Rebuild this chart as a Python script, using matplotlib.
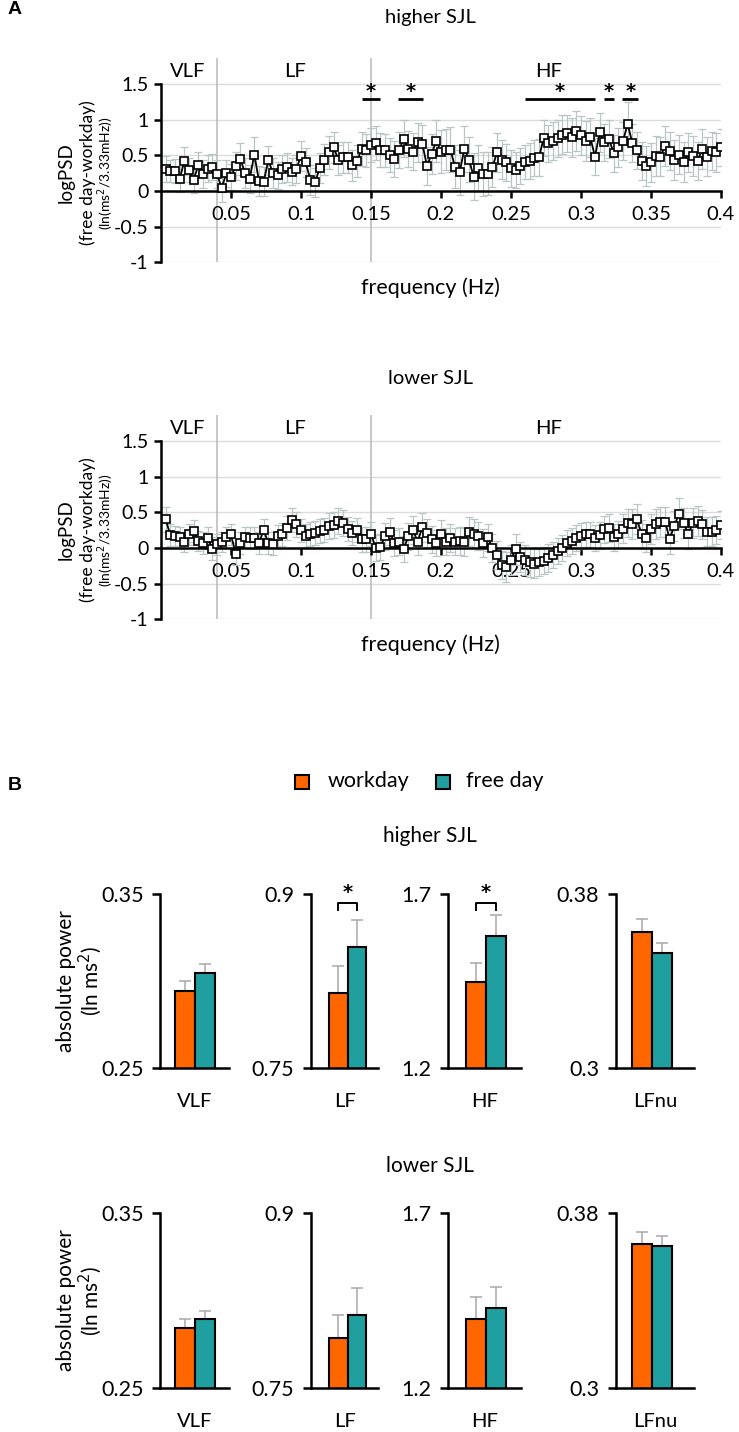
import numpy as np
import matplotlib
matplotlib.use("Agg")
import matplotlib.pyplot as plt
from matplotlib.patches import Rectangle

plt.rcParams['font.family'] = ['Lato', 'DejaVu Sans']

# ---------------- data ----------------
freq_hz = np.round(np.arange(1, 121) * 0.4 / 120, 5)   # 3.33 mHz bins

higher_mean = [
    0.31, 0.28, 0.28, 0.17, 0.42, 0.29, 0.16, 0.36, 0.24, 0.31,
    0.34, 0.24, 0.04, 0.25, 0.20, 0.35, 0.45, 0.25, 0.17, 0.51,
    0.14, 0.13, 0.43, 0.25, 0.22, 0.31, 0.33, 0.27, 0.31, 0.49,
    0.40, 0.16, 0.12, 0.32, 0.44, 0.54, 0.61, 0.44, 0.47, 0.47,
    0.36, 0.42, 0.59, 0.57, 0.64, 0.67, 0.57, 0.57, 0.50, 0.45,
    0.57, 0.73, 0.59, 0.55, 0.68, 0.66, 0.35, 0.52, 0.70, 0.55,
    0.58, 0.58, 0.34, 0.26, 0.59, 0.44, 0.20, 0.32, 0.24, 0.24,
    0.33, 0.54, 0.44, 0.40, 0.32, 0.29, 0.35, 0.41, 0.42, 0.46,
    0.47, 0.74, 0.67, 0.70, 0.74, 0.79, 0.81, 0.75, 0.84, 0.78,
    0.70, 0.75, 0.48, 0.82, 0.68, 0.73, 0.53, 0.61, 0.70, 0.94,
    0.67, 0.57, 0.42, 0.35, 0.40, 0.49, 0.48, 0.63, 0.56, 0.43,
    0.51, 0.40, 0.54, 0.49, 0.42, 0.59, 0.48, 0.56, 0.54, 0.61,
]
higher_err = [
    0.18, 0.16, 0.17, 0.18, 0.20, 0.17, 0.19, 0.18, 0.20, 0.19,
    0.18, 0.20, 0.20, 0.19, 0.18, 0.20, 0.22, 0.21, 0.20, 0.24,
    0.21, 0.20, 0.20, 0.21, 0.19, 0.20, 0.20, 0.19, 0.20, 0.21,
    0.20, 0.21, 0.20, 0.21, 0.22, 0.23, 0.22, 0.21, 0.22, 0.22,
    0.22, 0.23, 0.24, 0.23, 0.24, 0.24, 0.24, 0.23, 0.24, 0.25,
    0.25, 0.26, 0.25, 0.26, 0.27, 0.26, 0.27, 0.28, 0.30, 0.30,
    0.29, 0.31, 0.30, 0.31, 0.32, 0.31, 0.33, 0.32, 0.31, 0.30,
    0.28, 0.27, 0.27, 0.26, 0.26, 0.25, 0.25, 0.24, 0.25, 0.25,
    0.26, 0.25, 0.26, 0.27, 0.26, 0.27, 0.26, 0.27, 0.28, 0.27,
    0.28, 0.27, 0.26, 0.27, 0.26, 0.27, 0.26, 0.27, 0.26, 0.30,
    0.27, 0.26, 0.27, 0.28, 0.27, 0.28, 0.27, 0.28, 0.27, 0.28,
    0.27, 0.28, 0.27, 0.28, 0.27, 0.28, 0.27, 0.26, 0.27, 0.26,
]
lower_mean = [
    0.40, 0.18, 0.17, 0.15, 0.085, 0.19, 0.24, 0.10, 0.07, 0.14,
    -0.01, 0.05, 0.09, 0.15, 0.19, -0.085, 0.07, 0.15, 0.14, 0.14,
    0.07, 0.25, 0.07, 0.06, 0.165, 0.19, 0.28, 0.39, 0.33, 0.25,
    0.17, 0.20, 0.21, 0.24, 0.25, 0.31, 0.32, 0.38, 0.35, 0.27,
    0.21, 0.25, 0.12, 0.12, 0.20, 0.0, 0.015, 0.165, 0.23, 0.07,
    0.09, -0.015, 0.165, 0.25, 0.09, 0.29, 0.21, 0.12, 0.07, 0.20,
    0.085, 0.14, 0.085, 0.10, 0.085, 0.23, 0.20, 0.165, 0.07, 0.15,
    0.0, -0.10, -0.24, -0.27, -0.17, -0.02, -0.12, -0.17, -0.20, -0.22,
    -0.20, -0.18, -0.14, -0.10, -0.04, 0.0, 0.07, 0.10, 0.14, 0.165,
    0.19, 0.19, 0.14, 0.18, 0.26, 0.28, 0.15, 0.19, 0.27, 0.35,
    0.33, 0.40, 0.19, 0.14, 0.26, 0.33, 0.36, 0.37, 0.13, 0.31,
    0.48, 0.35, 0.20, 0.35, 0.38, 0.33, 0.23, 0.23, 0.25, 0.32,
]
lower_err = [
    0.18, 0.15, 0.14, 0.15, 0.14, 0.15, 0.15, 0.14, 0.15, 0.15,
    0.16, 0.15, 0.14, 0.15, 0.15, 0.16, 0.15, 0.15, 0.15, 0.16,
    0.15, 0.16, 0.15, 0.16, 0.16, 0.16, 0.17, 0.17, 0.17, 0.16,
    0.16, 0.17, 0.17, 0.17, 0.17, 0.18, 0.18, 0.18, 0.18, 0.17,
    0.17, 0.17, 0.17, 0.17, 0.17, 0.18, 0.18, 0.19, 0.19, 0.18,
    0.19, 0.18, 0.19, 0.20, 0.19, 0.20, 0.19, 0.19, 0.18, 0.19,
    0.19, 0.19, 0.19, 0.20, 0.20, 0.20, 0.20, 0.20, 0.19, 0.19,
    0.19, 0.20, 0.20, 0.21, 0.21, 0.22, 0.21, 0.21, 0.20, 0.20,
    0.19, 0.19, 0.19, 0.18, 0.18, 0.18, 0.18, 0.18, 0.18, 0.18,
    0.18, 0.18, 0.18, 0.19, 0.19, 0.19, 0.19, 0.19, 0.20, 0.20,
    0.21, 0.21, 0.20, 0.20, 0.21, 0.21, 0.21, 0.21, 0.21, 0.21,
    0.22, 0.21, 0.21, 0.21, 0.21, 0.20, 0.20, 0.20, 0.20, 0.20,
]

band_edges = [0.04, 0.15]
band_names = ["VLF", "LF", "HF"]
band_label_x = [0.019, 0.096, 0.277]
sig_ranges_higher = [(0.1433, 0.1564), (0.1695, 0.1874), (0.26, 0.31),
                     (0.3164, 0.3236), (0.3295, 0.341)]

line_yticks = [-1, -0.5, 0, 0.5, 1, 1.5]
line_yticklabels = ["-1", "-0.5", "0", "0.5", "1", "1.5"]
line_xticks = [0.05, 0.1, 0.15, 0.2, 0.25, 0.3, 0.35, 0.4]
line_xticklabels = ["0.05", "0.1", "0.15", "0.2", "0.25", "0.3", "0.35", "0.4"]

bar_categories = ["VLF", "LF", "HF", "LFnu"]
bar_ylims = [(0.25, 0.35), (0.75, 0.9), (1.2, 1.7), (0.3, 0.38)]
bar_yticklabels = [("0.25", "0.35"), ("0.75", "0.9"), ("1.2", "1.7"), ("0.3", "0.38")]
higher_workday = [0.2944, 0.815, 1.446, 0.3625]
higher_workday_err = [0.0058, 0.023, 0.055, 0.0059]
higher_freeday = [0.3044, 0.8546, 1.580, 0.3527]
higher_freeday_err = [0.0054, 0.0234, 0.060, 0.0047]
lower_workday = [0.2842, 0.7927, 1.397, 0.3657]
lower_workday_err = [0.0053, 0.0199, 0.064, 0.0053]
lower_freeday = [0.2894, 0.8126, 1.428, 0.3650]
lower_freeday_err = [0.0049, 0.0233, 0.060, 0.0046]
higher_sig = [False, True, True, False]

ORANGE = "#ff6600"
TEAL = "#1f9f9f"
ERRC = "#b8c6c6"

W, H = 739, 1432
fig = plt.figure(figsize=(W / 100, H / 100), dpi=100)


def rect(left, top, right, bottom):
    return [left / W, 1 - bottom / H, (right - left) / W, (bottom - top) / H]


def star(ax, x, y, size=14, **kw):
    ax.text(x, y, "*", ha="center", va="center", fontsize=size,
            fontweight="bold", family="DejaVu Sans", **kw)


def line_panel(zero_px, mean, err, title, title_y, sig=None):
    scale = 71.4
    ytop = 1.86
    ax = fig.add_axes(rect(161, zero_px - ytop * scale, 721, zero_px + 1 * scale))
    ax.set_xlim(0, 0.4)
    ax.set_ylim(-1, ytop)
    for s in ["top", "right"]:
        ax.spines[s].set_visible(False)
    ax.spines["left"].set_bounds(-1, 1.5)
    ax.spines["left"].set_linewidth(1.8)
    ax.spines["bottom"].set_position(("data", 0))
    ax.spines["bottom"].set_linewidth(1.8)
    for yv in [1.5, 1, 0.5, -0.5, -1]:
        ax.axhline(yv, color="#dcdcdc", lw=1.0, zorder=0)
    for xv in band_edges:
        ax.axvline(xv, color="#b8b8b8", lw=1.1, zorder=0.5)
    for name, xv in zip(band_names, band_label_x):
        ax.text(xv, 1.68, name, ha="center", va="center", fontsize=14.5)
    ax.set_yticks(line_yticks)
    ax.set_yticklabels(line_yticklabels, fontsize=14)
    ax.set_xticks(line_xticks)
    ax.set_xticklabels(line_xticklabels, fontsize=14.5)
    ax.tick_params(axis="y", direction="out", length=5, width=1.8, pad=4)
    ax.tick_params(axis="x", direction="out", length=5, width=1.8, pad=6)
    ax.errorbar(freq_hz, mean, yerr=err, fmt="none", ecolor=ERRC,
                elinewidth=0.9, capsize=3.2, capthick=0.9, zorder=2)
    ax.plot(freq_hz, mean, "-s", color="black", lw=1.3, ms=5.6,
            mfc="white", mec="black", mew=1.2, zorder=3)
    if sig:
        for a, b in sig:
            ax.plot([a, b], [1.285, 1.285], color="black", lw=2.0,
                    solid_capstyle="butt", clip_on=False)
            star(ax, (a + b) / 2, 1.40)
    fig.text(430 / W, 1 - title_y / H, title, ha="center", va="center", fontsize=14.5)
    fig.text(430 / W, 1 - (zero_px + 97) / H, "frequency (Hz)", ha="center",
             va="center", fontsize=15.5)
    ymid = 1 - (zero_px - 18) / H
    fig.text(66 / W, ymid, "logPSD", rotation=90, ha="center", va="center", fontsize=13.5)
    fig.text(88 / W, ymid, "(free day-workday)", rotation=90, ha="center",
             va="center", fontsize=12.5)
    fig.text(106 / W, ymid, "(ln(ms$^2$/3.33mHz))", rotation=90, ha="center",
             va="center", fontsize=10)
    return ax


line_panel(191, higher_mean, higher_err, "higher SJL", 18, sig_ranges_higher)
line_panel(548, lower_mean, lower_err, "lower SJL", 378)

# panel letters
fig.text(8 / W, 1 - 10 / H, "A", fontsize=14, fontweight="bold",
         family="Liberation Sans", ha="left", va="center")
fig.text(8 / W, 1 - 785 / H, "B", fontsize=14, fontweight="bold",
         family="Liberation Sans", ha="left", va="center")

# legend
for x0, col, lab, tx in [(295, ORANGE, "workday", 328), (436, TEAL, "free day", 466)]:
    fig.patches.append(Rectangle((x0 / W, 1 - 789 / H), 14 / W, 14 / H,
                                 transform=fig.transFigure, facecolor=col,
                                 edgecolor="black", lw=1.5))
    fig.text(tx / W, 1 - 781 / H, lab, ha="left", va="center", fontsize=15.5)

# bar panels
cols = [(160.4, 228.8, 185.0, 204.7), (311.0, 378.0, 338.2, 356.8),
        (448.0, 521.0, 476.0, 496.0), (616.0, 694.0, 642.0, 662.0)]
rows = [(894, 1068, higher_workday, higher_workday_err, higher_freeday,
         higher_freeday_err, "higher SJL", 836, higher_sig),
        (1212.7, 1388.3, lower_workday, lower_workday_err, lower_freeday,
         lower_freeday_err, "lower SJL", 1166, [False] * 4)]

for top, bot, wk, wke, fr, fre, title, ty, sigs in rows:
    fig.text(430 / W, 1 - ty / H, title, ha="center", va="center", fontsize=15)
    ym = 1 - (top + bot) / 2 / H
    fig.text(66 / W, ym, "absolute power", rotation=90, ha="center",
             va="center", fontsize=15)
    fig.text(90 / W, ym, "(ln ms$^2$)", rotation=90, ha="center",
             va="center", fontsize=15)
    for i, (al, ar, oc, tc) in enumerate(cols):
        ax = fig.add_axes(rect(al, top, ar, bot))
        s = tc - oc
        ax.set_xlim((al - oc) / s, (ar - oc) / s)
        lo, hi = bar_ylims[i]
        ax.set_ylim(lo, hi)
        ax.bar([0, 1], [wk[i], fr[i]], width=1.0, color=[ORANGE, TEAL],
               edgecolor="black", lw=1.5, zorder=2)
        ax.errorbar([0, 1], [wk[i], fr[i]], yerr=[[0, 0], [wke[i], fre[i]]],
                    fmt="none", ecolor="#a8a8a8", elinewidth=1.1, capsize=4,
                    capthick=1.1, zorder=1)
        for sp in ["top", "right"]:
            ax.spines[sp].set_visible(False)
        ax.spines["left"].set_linewidth(1.8)
        ax.spines["bottom"].set_linewidth(1.8)
        ax.set_yticks([lo, hi])
        ax.set_yticklabels(bar_yticklabels[i], fontsize=15.5)
        ax.tick_params(axis="y", direction="out", length=6, width=1.8, pad=6)
        ax.set_xticks([])
        ax.text(0.5, -0.19, bar_categories[i], transform=ax.transAxes,
                ha="center", va="center", fontsize=14.5)
        if sigs[i]:
            rng = hi - lo
            yb = hi - 9 / (bot - top) * rng
            yl = hi - 16 / (bot - top) * rng
            ax.plot([0, 0, 1, 1], [yl, yb, yb, yl], color="black", lw=1.4,
                    clip_on=False)
            star(ax, 0.5, hi + 0.01 * rng, size=14, clip_on=False)

fig.savefig("out.png", dpi=100)
